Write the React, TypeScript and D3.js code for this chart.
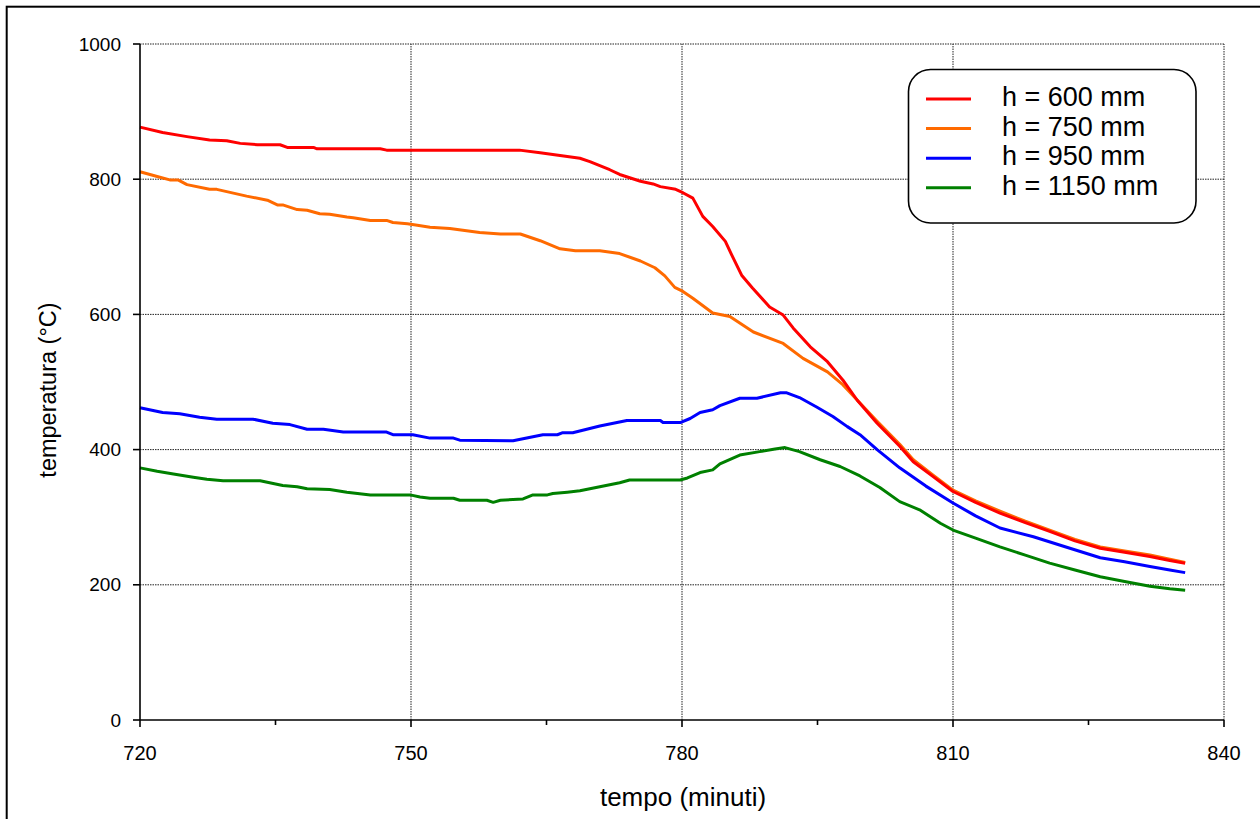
import React from 'react';
import * as d3 from 'd3';

// [tempo (minuti), temperatura (°C)]
const h600: [number, number][] = [
  [720, 877], [722.5, 869], [725.2, 863], [727.7, 858], [729.6, 857], [731.1, 853],
  [733, 851], [735.5, 851], [736.3, 847], [739.2, 847], [739.6, 845], [746.6, 845],
  [747.3, 843], [762, 843], [764.3, 839], [766.5, 835], [768.7, 831], [769.8, 826],
  [770.9, 820], [772, 814], [773.1, 807], [775.4, 797], [776.8, 793], [777.6, 789],
  [779.3, 785], [780.1, 780], [781.2, 772], [782.3, 745], [783.4, 730], [784.8, 708],
  [785.5, 688], [786.6, 658], [787.8, 639], [789.7, 611], [791.2, 599], [792.3, 580],
  [794.2, 552], [796.1, 530], [797.8, 503], [799.4, 473], [801.6, 439], [804.1, 405],
  [805.6, 382], [807.8, 360], [810, 338], [812.5, 322], [815.2, 306], [818, 292],
  [820.7, 279], [823.5, 265], [826.3, 254], [829, 248], [831.8, 242], [834, 236],
  [835.7, 232],
];

const h750: [number, number][] = [
  [720, 811], [721.9, 804], [723.3, 799], [724.2, 799], [725.2, 792], [727.7, 785],
  [728.5, 785], [731.8, 775], [734.1, 769], [735.2, 762], [735.8, 762], [737.4, 755],
  [738.5, 754], [739.9, 749], [741, 748], [742.9, 744], [743.6, 743], [745.5, 739],
  [747.3, 739], [748, 736], [749.6, 734], [750.7, 732], [752.1, 729], [754.3, 727],
  [757.6, 721], [759.9, 719], [762.1, 719], [764.3, 709], [766.5, 697], [768.2, 694],
  [770.9, 694], [773.1, 690], [775.4, 679], [777, 669], [778.1, 657], [779.2, 640],
  [780.1, 634], [781.2, 624], [783.4, 602], [785.3, 597], [787.9, 574], [791.2, 557],
  [793.4, 535], [796.1, 515], [797.8, 496], [799.7, 469], [801.6, 442], [804.1, 408],
  [805.6, 385], [807.8, 362], [810, 340], [812.5, 324], [815.2, 309], [818, 294],
  [820.7, 281], [823.5, 267], [826.3, 256], [829, 250], [831.8, 244], [834, 238],
  [835.7, 233],
];

const h950: [number, number][] = [
  [720, 462], [722.5, 455], [724.4, 453], [726.6, 448], [728.5, 445], [732.5, 445],
  [734.7, 439], [736.6, 437], [738.5, 430], [740.3, 430], [742.5, 426], [747.3, 426],
  [748, 422], [750.2, 422], [752.1, 417], [754.7, 417], [755.4, 414], [761.3, 413],
  [764.6, 422], [766.2, 422], [766.8, 425], [767.9, 425], [770.9, 435], [773.9, 443],
  [777.6, 443], [777.9, 440], [779.8, 440], [780.9, 446], [782, 455], [783.4, 459],
  [784.2, 465], [786.4, 476], [788.3, 476], [790.9, 484], [791.6, 484], [793, 477],
  [794.9, 463], [796.7, 449], [798.3, 434], [799.7, 422], [801.6, 400], [804.1, 373],
  [807, 346], [810, 321], [812.5, 302], [815.2, 284], [818.9, 271], [822.5, 256],
  [826.3, 240], [829, 234], [831.8, 227], [834, 222], [835.7, 218],
];

const h1150: [number, number][] = [
  [720, 373], [721.9, 368], [723.7, 364], [725.9, 359], [727.4, 356], [729.2, 354],
  [733.3, 354], [735.8, 347], [737.4, 345], [738.5, 342], [741, 341], [742.9, 337],
  [745.5, 333], [749.9, 333], [751, 330], [752.1, 328], [754.7, 328], [755.4, 325],
  [758.4, 325], [759.1, 322], [759.9, 325], [762.4, 327], [763.5, 333], [765.1, 333],
  [765.7, 335], [767.3, 337], [768.7, 339], [770.9, 345], [773.1, 351], [774.2, 355],
  [779.8, 355], [780.6, 358], [782, 366], [783.4, 370], [784.2, 379], [786.4, 392],
  [788.6, 397], [790.3, 401], [791.4, 403], [793, 397], [795.3, 385], [797.5, 375],
  [799.7, 361], [801.9, 344], [804.1, 323], [806.3, 311], [808.6, 291], [810, 281],
  [812.5, 269], [815.2, 256], [818, 244], [820.7, 232], [823.5, 222], [826.3, 212],
  [829, 205], [831.8, 198], [834, 194], [835.7, 192],
];

const seriesNames = ['h = 600 mm', 'h = 750 mm', 'h = 950 mm', 'h = 1150 mm'];
const seriesColors = ['#ff0000', '#ff6a00', '#0000ff', '#008000'];
const seriesData = [h600, h750, h950, h1150];
const drawOrder = [1, 0, 2, 3];

const yTicks = [0, 200, 400, 600, 800, 1000];
const xTicks = [720, 750, 780, 810, 840];
const xMinorTicks = [735, 765, 795, 825];

const W = 1260;
const H = 819;
const font = '"Liberation Sans", Arial, sans-serif';

export default function App() {
  const x = d3.scaleLinear().domain([720, 840]).range([140, 1224]);
  const y = d3.scaleLinear().domain([0, 1000]).range([720, 44]);
  const line = d3
    .line<[number, number]>()
    .x((d) => x(d[0]))
    .y((d) => y(d[1]));

  const [x0, x1] = x.range();
  const [y0, y1] = y.range();

  return (
    <svg
      width={W}
      height={H}
      style={{ position: 'absolute', left: 0, top: 0, background: '#fff' }}
      fontFamily={font}
    >
      <rect x={0} y={0} width={W} height={H} fill="#fff" />
      <rect x={6.7} y={6.7} width={W + 50} height={H + 50} fill="none" stroke="#000" strokeWidth={2} />

      {/* grid */}
      {yTicks.filter((t) => t > 0).map((t) => (
        <line key={'gy' + t} x1={x0} x2={x1} y1={y(t)} y2={y(t)} stroke="#222" strokeWidth={1} strokeDasharray="1.5,1" />
      ))}
      {xTicks.filter((t) => t > 720).map((t) => (
        <line key={'gx' + t} x1={x(t)} x2={x(t)} y1={y0} y2={y1} stroke="#222" strokeWidth={1} strokeDasharray="1.5,1" />
      ))}

      {/* series */}
      {drawOrder.map((i) => (
        <path
          key={seriesNames[i]}
          d={line(seriesData[i]) || ''}
          fill="none"
          stroke={seriesColors[i]}
          strokeWidth={3}
          strokeLinejoin="round"
          strokeLinecap="butt"
        />
      ))}

      {/* axes */}
      <line x1={x0} x2={x0} y1={y0} y2={y1} stroke="#000" strokeWidth={1.6} />
      <line x1={x0} x2={x1} y1={y0} y2={y0} stroke="#000" strokeWidth={1.6} />
      {yTicks.map((t) => (
        <g key={'yt' + t}>
          <line x1={x0 - 7} x2={x0} y1={y(t)} y2={y(t)} stroke="#000" strokeWidth={1.6} />
          <text x={x0 - 19} y={y(t) + 6.5} textAnchor="end" fontSize={19}>
            {t}
          </text>
        </g>
      ))}
      {xTicks.map((t) => (
        <g key={'xt' + t}>
          <line x1={x(t)} x2={x(t)} y1={y0} y2={y0 + 7} stroke="#000" strokeWidth={1.6} />
          <text x={x(t)} y={760} textAnchor="middle" fontSize={20}>
            {t}
          </text>
        </g>
      ))}
      {xMinorTicks.map((t) => (
        <line key={'xm' + t} x1={x(t)} x2={x(t)} y1={y0} y2={y0 + 5} stroke="#000" strokeWidth={1.6} />
      ))}

      {/* axis titles */}
      <text x={683} y={806} textAnchor="middle" fontSize={26}>
        tempo (minuti)
      </text>
      <text transform="translate(56,390) rotate(-90)" textAnchor="middle" fontSize={23.5}>
        temperatura (°C)
      </text>

      {/* legend */}
      <rect x={908.5} y={69.5} width={287.5} height={153.5} rx={22} ry={22} fill="#fff" stroke="#000" strokeWidth={1.6} />
      {seriesNames.map((name, i) => (
        <g key={'lg' + name} transform={`translate(0,${99 + i * 29.6})`}>
          <line x1={926} x2={971} y1={0} y2={0} stroke={seriesColors[i]} strokeWidth={3} />
          <text x={1002} y={7} fontSize={27}>
            {name}
          </text>
        </g>
      ))}
    </svg>
  );
}
